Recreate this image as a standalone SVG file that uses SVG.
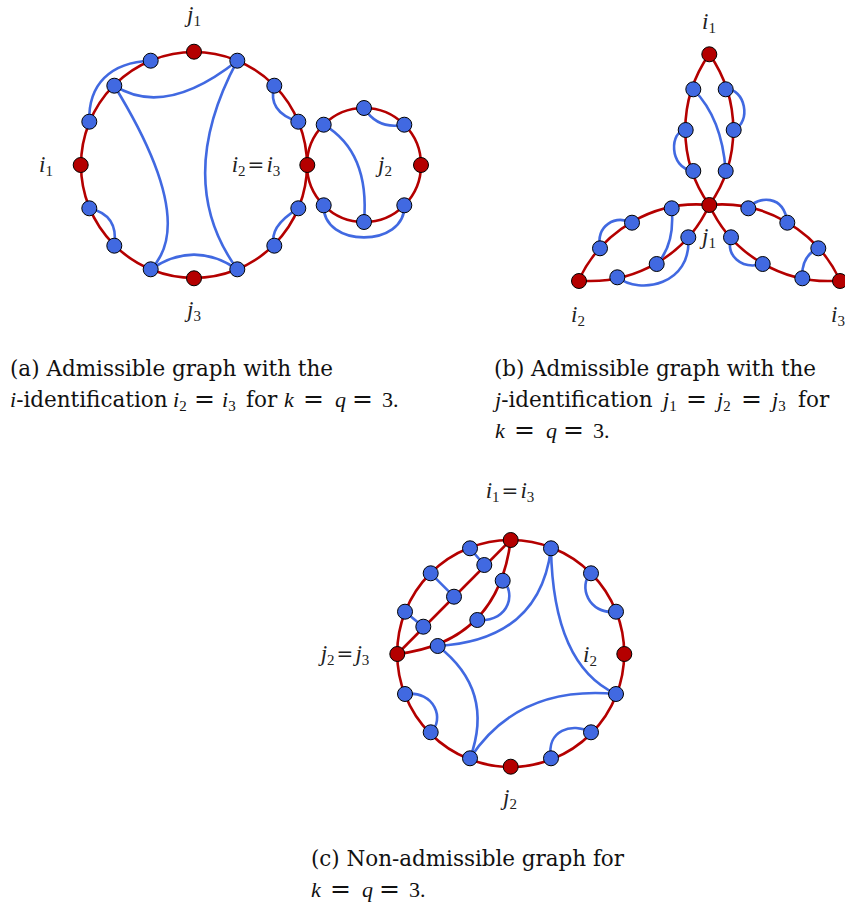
<svg xmlns="http://www.w3.org/2000/svg" width="845" height="902" viewBox="0 0 845 902">
<style>
.red{fill:none;stroke:#b40000;stroke-width:2.6}
.blue{fill:none;stroke:#4169e1;stroke-width:2.6}
.nb{fill:#4169e1;stroke:#000;stroke-width:1}
.nr{fill:#b40000;stroke:#000;stroke-width:1}
.lbl{font-family:"Liberation Serif","DejaVu Serif",serif;font-style:italic;font-size:23px;fill:#222;text-anchor:middle}
.sub{font-family:"Liberation Serif","DejaVu Serif",serif;font-style:normal;font-size:15px}
.eq{font-family:"DejaVu Serif",serif;font-style:normal;font-size:20px}
.eqc{font-family:"DejaVu Serif",serif;font-style:normal;font-size:25px}
.cap{font-family:"DejaVu Serif",serif;font-size:21.5px;fill:#111}
.m{font-family:"Liberation Serif","DejaVu Serif",serif;font-style:italic;font-size:22px}
.mu{font-family:"Liberation Serif","DejaVu Serif",serif;font-style:normal;font-size:22px}
</style>
<rect width="845" height="902" fill="#fff"/>

<!-- ===== Panel (a) ===== -->
<g id="a-edges">
  <circle class="red" cx="194" cy="165" r="113"/>
  <circle class="red" cx="364" cy="165" r="57"/>
  <path class="blue" d="M150.7,60.7 C110,62 88,85 89.3,121.7"/>
  <path class="blue" d="M114.3,85.7 Q165,118 237.3,60.7"/>
  <path class="blue" d="M114.3,85.7 Q198,222 150.7,269.3"/>
  <path class="blue" d="M237.3,60.7 Q173,181 237.3,269.3"/>
  <path class="blue" d="M150.7,269.3 Q194,240 237.3,269.3"/>
  <path class="blue" d="M274.3,85.7 Q267,112 298.3,121.7"/>
  <path class="blue" d="M89.3,208.3 Q119,215 114.3,245.7"/>
  <path class="blue" d="M298.3,208.3 Q268,227 274.3,245.7"/>
  <path class="blue" d="M364,108 Q378,130 404.3,124.7"/>
  <path class="blue" d="M323.7,124.7 Q370,152 364,222"/>
  <path class="blue" d="M323.7,205.3 C322,248 406,248 404.3,205.3"/>
</g>
<g id="a-j1"><circle class="nr" cx="194" cy="51.7" r="7.5"/></g>
<g id="a-b1"><circle class="nb" cx="150.7" cy="60.7" r="7.5"/></g>
<g id="a-b2"><circle class="nb" cx="237.3" cy="60.7" r="7.5"/></g>
<g id="a-b3"><circle class="nb" cx="114.3" cy="85.7" r="7.5"/></g>
<g id="a-b4"><circle class="nb" cx="274.3" cy="85.7" r="7.5"/></g>
<g id="a-b5"><circle class="nb" cx="89.3" cy="121.7" r="7.5"/></g>
<g id="a-b6"><circle class="nb" cx="298.3" cy="121.7" r="7.5"/></g>
<g id="a-i1"><circle class="nr" cx="80.7" cy="165" r="7.5"/></g>
<g id="a-i23"><circle class="nr" cx="307.3" cy="165" r="7.5"/></g>
<g id="a-b7"><circle class="nb" cx="89.3" cy="208.3" r="7.5"/></g>
<g id="a-b8"><circle class="nb" cx="298.3" cy="208.3" r="7.5"/></g>
<g id="a-b9"><circle class="nb" cx="114.3" cy="245.7" r="7.5"/></g>
<g id="a-b10"><circle class="nb" cx="274.3" cy="245.7" r="7.5"/></g>
<g id="a-b11"><circle class="nb" cx="150.7" cy="269.3" r="7.5"/></g>
<g id="a-b12"><circle class="nb" cx="237.3" cy="269.3" r="7.5"/></g>
<g id="a-j3"><circle class="nr" cx="194" cy="278.3" r="7.5"/></g>
<g id="a-c1"><circle class="nb" cx="364" cy="108" r="7.5"/></g>
<g id="a-c2"><circle class="nb" cx="404.3" cy="124.7" r="7.5"/></g>
<g id="a-c3"><circle class="nb" cx="323.7" cy="124.7" r="7.5"/></g>
<g id="a-j2"><circle class="nr" cx="421" cy="165" r="7.5"/></g>
<g id="a-c4"><circle class="nb" cx="323.7" cy="205.3" r="7.5"/></g>
<g id="a-c5"><circle class="nb" cx="364" cy="222" r="7.5"/></g>
<g id="a-c6"><circle class="nb" cx="404.3" cy="205.3" r="7.5"/></g>
<g id="a-labels">
  <text class="lbl" x="194" y="22">j<tspan class="sub" dy="4">1</tspan></text>
  <text class="lbl" x="46" y="172">i<tspan class="sub" dy="4">1</tspan></text>
  <text class="lbl" x="256" y="172">i<tspan class="sub" dy="4">2</tspan><tspan class="eq" dx="2" dy="-4">=</tspan><tspan dx="2">i</tspan><tspan class="sub" dy="4">3</tspan></text>
  <text class="lbl" x="385" y="172">j<tspan class="sub" dy="4">2</tspan></text>
  <text class="lbl" x="194" y="317">j<tspan class="sub" dy="4">3</tspan></text>
</g>

<!-- ===== Panel (b) ===== -->
<g id="b-edges">
  <g transform="translate(709.3,205)">
    <path class="red" d="M0,-151 C-32,-105 -32,-45 0,0 C32,-45 32,-105 0,-151"/>
    <path class="red" transform="rotate(-120)" d="M0,-151 C-32,-105 -32,-45 0,0 C32,-45 32,-105 0,-151"/>
    <path class="red" transform="rotate(120)" d="M0,-151 C-32,-105 -32,-45 0,0 C32,-45 32,-105 0,-151"/>
  </g>
  <path class="blue" d="M685.7,130 C670,130 668,168 693.3,171"/>
  <path class="blue" d="M725.7,89.3 C745,88 752,122 733.7,130"/>
  <path class="blue" d="M693.3,89.3 Q722,118 725.7,171"/>
  <path class="blue" d="M600,248.3 C596,225 615,215 632,222.7"/>
  <path class="blue" d="M671.7,208.3 Q675,245 656.7,264"/>
  <path class="blue" d="M688.3,237.3 C692,285 640,295 617.3,277.3"/>
  <path class="blue" d="M748.3,208.3 C758,196 784,194 787.3,222.7"/>
  <path class="blue" d="M731,237.3 C726,255 740,270 762.7,264"/>
  <path class="blue" d="M818.3,248.3 Q801,256 802.3,278.3"/>
</g>
<g id="b-i1"><circle class="nr" cx="709.3" cy="54.3" r="7.5"/></g>
<g id="b-t1"><circle class="nb" cx="693.3" cy="89.3" r="7.5"/></g>
<g id="b-t2"><circle class="nb" cx="725.7" cy="89.3" r="7.5"/></g>
<g id="b-t3"><circle class="nb" cx="685.7" cy="130" r="7.5"/></g>
<g id="b-t4"><circle class="nb" cx="733.7" cy="130" r="7.5"/></g>
<g id="b-t5"><circle class="nb" cx="693.3" cy="171" r="7.5"/></g>
<g id="b-t6"><circle class="nb" cx="725.7" cy="171" r="7.5"/></g>
<g id="b-l1"><circle class="nb" cx="671.7" cy="208.3" r="7.5"/></g>
<g id="b-l2"><circle class="nb" cx="632" cy="222.7" r="7.5"/></g>
<g id="b-l3"><circle class="nb" cx="600" cy="248.3" r="7.5"/></g>
<g id="b-l4"><circle class="nb" cx="617.3" cy="277.3" r="7.5"/></g>
<g id="b-l5"><circle class="nb" cx="656.7" cy="264" r="7.5"/></g>
<g id="b-l6"><circle class="nb" cx="688.3" cy="237.3" r="7.5"/></g>
<g id="b-i2"><circle class="nr" cx="579" cy="281" r="7.5"/></g>
<g id="b-r1"><circle class="nb" cx="748.3" cy="208.3" r="7.5"/></g>
<g id="b-r2"><circle class="nb" cx="787.3" cy="222.7" r="7.5"/></g>
<g id="b-r3"><circle class="nb" cx="818.3" cy="248.3" r="7.5"/></g>
<g id="b-r4"><circle class="nb" cx="802.3" cy="278.3" r="7.5"/></g>
<g id="b-r5"><circle class="nb" cx="762.7" cy="264" r="7.5"/></g>
<g id="b-r6"><circle class="nb" cx="731" cy="237.3" r="7.5"/></g>
<g id="b-i3"><circle class="nr" cx="840" cy="281" r="7.5"/></g>
<g id="b-j1"><circle class="nr" cx="709.3" cy="205" r="7.5"/></g>
<g id="b-labels">
  <text class="lbl" x="709" y="29">i<tspan class="sub" dy="4">1</tspan></text>
  <text class="lbl" x="709" y="244">j<tspan class="sub" dy="4">1</tspan></text>
  <text class="lbl" x="578" y="322">i<tspan class="sub" dy="4">2</tspan></text>
  <text class="lbl" x="838" y="322">i<tspan class="sub" dy="4">3</tspan></text>
</g>

<!-- ===== Panel (c) ===== -->
<g id="c-edges">
  <circle class="red" cx="510.7" cy="653.5" r="113.5"/>
  <path class="red" d="M397.3,654 L510.7,540"/>
  <path class="red" d="M397.3,654 Q498,642 510.7,540"/>
  <path class="blue" d="M470,548.3 L484.3,565"/>
  <path class="blue" d="M430.7,573.3 L454,596.7"/>
  <path class="blue" d="M405,611.7 L423.3,626.7"/>
  <path class="blue" d="M502.7,580.7 C515,590 512,622 477.3,620"/>
  <path class="blue" d="M551,548.3 Q540,640 437.7,646"/>
  <path class="blue" d="M551,548.3 Q553,665 616,694"/>
  <path class="blue" d="M437.7,646 Q495,690 470,758.3"/>
  <path class="blue" d="M470,758.3 Q518,685 616,694"/>
  <path class="blue" d="M405,694 C435,690 445,720 430.7,732.3"/>
  <path class="blue" d="M591,732.3 C572,722 546,730 551,758.3"/>
  <path class="blue" d="M591,573.3 C578,585 588,615 616,611.7"/>
</g>
<g id="c-i13"><circle class="nr" cx="510.7" cy="540" r="7.5"/></g>
<g id="c-o1"><circle class="nb" cx="470" cy="548.3" r="7.5"/></g>
<g id="c-o2"><circle class="nb" cx="551" cy="548.3" r="7.5"/></g>
<g id="c-o3"><circle class="nb" cx="430.7" cy="573.3" r="7.5"/></g>
<g id="c-o4"><circle class="nb" cx="591" cy="573.3" r="7.5"/></g>
<g id="c-o5"><circle class="nb" cx="405" cy="611.7" r="7.5"/></g>
<g id="c-o6"><circle class="nb" cx="616" cy="611.7" r="7.5"/></g>
<g id="c-j23"><circle class="nr" cx="397.3" cy="654" r="7.5"/></g>
<g id="c-i2"><circle class="nr" cx="624.3" cy="654" r="7.5"/></g>
<g id="c-o7"><circle class="nb" cx="405" cy="694" r="7.5"/></g>
<g id="c-o8"><circle class="nb" cx="616" cy="694" r="7.5"/></g>
<g id="c-o9"><circle class="nb" cx="430.7" cy="732.3" r="7.5"/></g>
<g id="c-o10"><circle class="nb" cx="591" cy="732.3" r="7.5"/></g>
<g id="c-o11"><circle class="nb" cx="470" cy="758.3" r="7.5"/></g>
<g id="c-o12"><circle class="nb" cx="551" cy="758.3" r="7.5"/></g>
<g id="c-j2"><circle class="nr" cx="510.7" cy="766.7" r="7.5"/></g>
<g id="c-n1"><circle class="nb" cx="484.3" cy="565" r="7.5"/></g>
<g id="c-n2"><circle class="nb" cx="454" cy="596.7" r="7.5"/></g>
<g id="c-n3"><circle class="nb" cx="423.3" cy="626.7" r="7.5"/></g>
<g id="c-n4"><circle class="nb" cx="502.7" cy="580.7" r="7.5"/></g>
<g id="c-n5"><circle class="nb" cx="477.3" cy="620" r="7.5"/></g>
<g id="c-n6"><circle class="nb" cx="437.7" cy="646" r="7.5"/></g>
<g id="c-labels">
  <text class="lbl" x="510" y="498">i<tspan class="sub" dy="4">1</tspan><tspan class="eq" dx="2" dy="-4">=</tspan><tspan dx="2">i</tspan><tspan class="sub" dy="4">3</tspan></text>
  <text class="lbl" x="345" y="661">j<tspan class="sub" dy="4">2</tspan><tspan class="eq" dx="2" dy="-4">=</tspan><tspan dx="2">j</tspan><tspan class="sub" dy="4">3</tspan></text>
  <text class="lbl" x="590" y="662">i<tspan class="sub" dy="4">2</tspan></text>
  <text class="lbl" x="510" y="805">j<tspan class="sub" dy="4">2</tspan></text>
</g>

<!-- ===== Captions ===== -->
<g id="captions">
  <text class="cap" x="10" y="376" textLength="323">(a) Admissible graph with the</text>
  <text class="cap" y="407"><tspan class="m" x="10">i</tspan><tspan>-identification</tspan><tspan class="m" x="173">i</tspan><tspan class="sub" dy="4">2</tspan><tspan class="eqc" x="194" dy="-4">=</tspan><tspan class="m" x="222">i</tspan><tspan class="sub" dy="4">3</tspan><tspan x="246" dy="-4">for</tspan><tspan class="m" x="284">k</tspan><tspan class="eqc" x="303">=</tspan><tspan class="m" x="335">q</tspan><tspan class="eqc" x="352">=</tspan><tspan class="mu" x="382">3.</tspan></text>
  <text class="cap" x="494" y="376" textLength="322">(b) Admissible graph with the</text>
  <text class="cap" y="407"><tspan class="m" x="495">j</tspan><tspan>-identification</tspan><tspan class="m" x="663">j</tspan><tspan class="sub" dy="4">1</tspan><tspan class="eqc" x="686" dy="-4">=</tspan><tspan class="m" x="717">j</tspan><tspan class="sub" dy="4">2</tspan><tspan class="eqc" x="741" dy="-4">=</tspan><tspan class="m" x="772">j</tspan><tspan class="sub" dy="4">3</tspan><tspan x="798" dy="-4">for</tspan></text>
  <text class="cap" y="438"><tspan class="m" x="495">k</tspan><tspan class="eqc" x="514">=</tspan><tspan class="m" x="546">q</tspan><tspan class="eqc" x="563">=</tspan><tspan class="mu" x="593">3.</tspan></text>
  <text class="cap" x="311" y="866" textLength="313">(c) Non-admissible graph for</text>
  <text class="cap" y="897"><tspan class="m" x="311">k</tspan><tspan class="eqc" x="330">=</tspan><tspan class="m" x="362">q</tspan><tspan class="eqc" x="379">=</tspan><tspan class="mu" x="409">3.</tspan></text>
</g>
</svg>
